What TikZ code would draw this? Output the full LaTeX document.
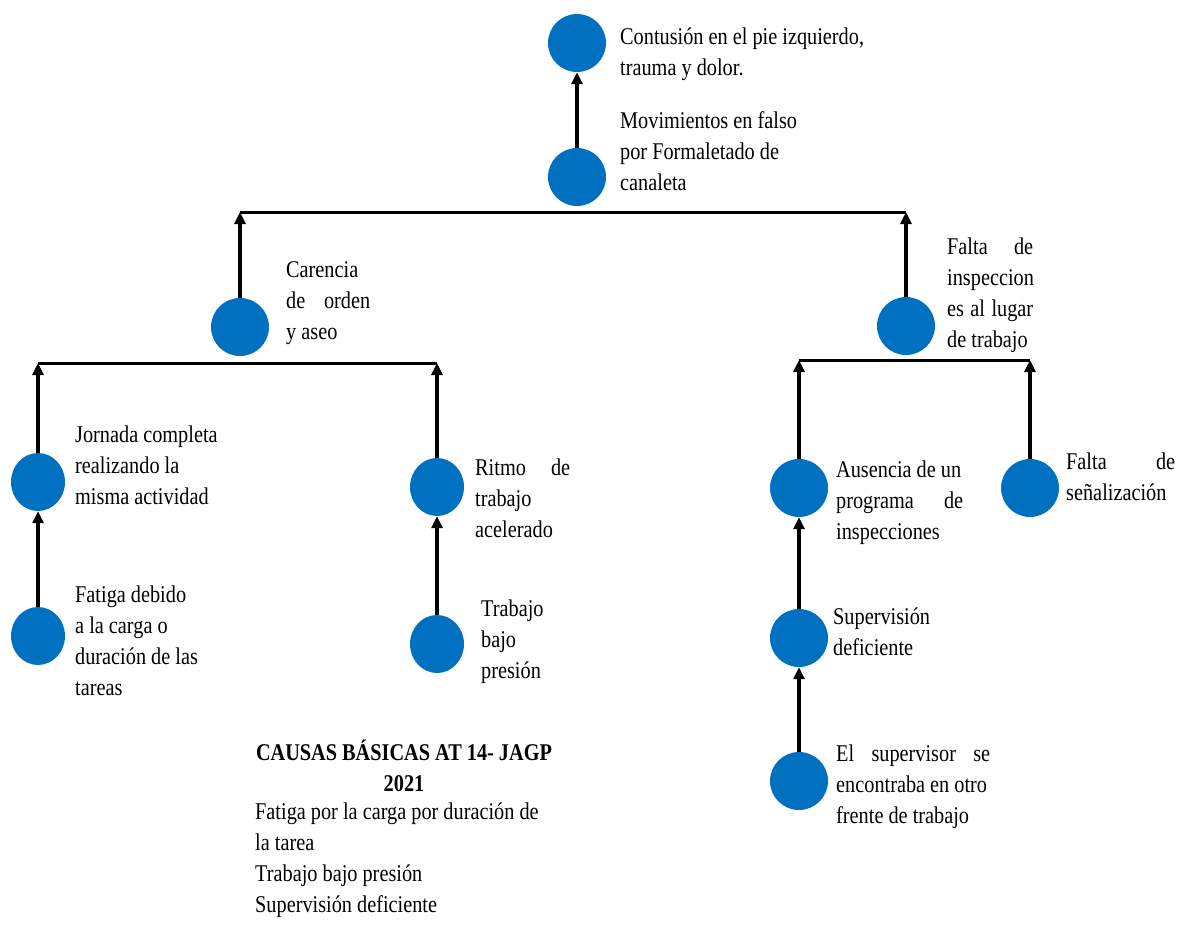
\documentclass[tikz,border=0pt]{standalone}
\usepackage{fontspec}
\setmainfont[FakeStretch=0.845]{Liberation Serif}
\usepackage{tikz}
\usetikzlibrary{arrows.meta,shapes.geometric}

\definecolor{dotblue}{HTML}{0070C0}
\newcommand{\spreadline}[2]{\makebox[#1pt][s]{#2}}

\begin{document}
\begin{tikzpicture}[
  x=1pt, y=-1pt,
  dot/.style={ellipse, fill=dotblue, minimum width=58pt, minimum height=58pt, inner sep=0pt},
  dotn/.style={dot, minimum width=54pt},
  lbl/.style={anchor=north west, inner sep=0pt, align=left,
    font=\fontsize{24}{31}\selectfont},
  arr/.style={-{Triangle[length=12pt,width=11pt]}, line width=3.2pt},
  bar/.style={line width=3pt}
]
\useasboundingbox (0,0) rectangle (1177,924);

% Top
\node[dot] (cont) at (577,43) {};
\node[lbl] (contl) at (620,28) {Contusión en el pie izquierdo,\\trauma y dolor.};
\node[dot] (mov) at (577,177) {};
\node[lbl] (movl) at (620,111) {Movimientos en falso\\por Formaletado de\\canaleta};
\draw[arr] (mov) -- (cont);

% Split
\coordinate (tl) at (240,212);
\coordinate (tr) at (906,212);
\draw[bar] (tl) -- (tr);
\node[dot] (car) at (240,327) {};
\node[lbl] (carl) at (286,261) {\spreadline{84}{Carencia}\\\spreadline{84}{de orden}\\y aseo};
\node[dot] (insp) at (906,326) {};
\node[lbl] (inspl) at (947,238) {\spreadline{86}{Falta de}\\\spreadline{86}{inspeccion}\\\spreadline{86}{es al lugar}\\de trabajo};
\draw[arr] (car) -- (tl);
\draw[arr] (insp) -- (tr);

% Left branch
\coordinate (ll) at (38,363);
\coordinate (lr) at (437,363);
\draw[bar] (ll) -- (lr);
\node[dotn] (jor) at (38,482) {};
\node[lbl] (jorl) at (75,426) {Jornada completa\\realizando la\\misma actividad};
\node[dotn] (fat) at (38,636) {};
\node[lbl] (fatl) at (75,586) {Fatiga debido\\a la carga o\\duración de las\\tareas};
\node[dotn] (rit) at (437,487) {};
\node[lbl] (ritl) at (475,459) {\spreadline{95}{Ritmo de}\\trabajo\\acelerado};
\node[dotn] (pres) at (437,644) {};
\node[lbl] (presl) at (481,600) {Trabajo\\bajo\\presión};
\draw[arr] (jor) -- (ll);
\draw[arr] (rit) -- (lr);
\draw[arr] (fat) -- (jor);
\draw[arr] (pres) -- (rit);

% Right branch
\coordinate (rl) at (799,360);
\coordinate (rr) at (1030,360);
\draw[bar] (rl) -- (rr);
\node[dot] (aus) at (799,488) {};
\node[lbl] (ausl) at (836,461) {Ausencia de un\\\spreadline{127}{programa de}\\inspecciones};
\node[dot] (sen) at (1030,488) {};
\node[lbl] (senl) at (1066,453) {\spreadline{109}{Falta de}\\señalización};
\node[dot] (sup) at (799,638) {};
\node[lbl] (supl) at (833,608) {Supervisión\\deficiente};
\node[dot] (otro) at (799,781) {};
\node[lbl] (otrol) at (836,745) {\spreadline{154}{El supervisor se}\\encontraba en otro\\frente de trabajo};
\draw[arr] (aus) -- (rl);
\draw[arr] (sen) -- (rr);
\draw[arr] (sup) -- (aus);
\draw[arr] (otro) -- (sup);

% Basic causes
\node[lbl, anchor=north, align=center, font=\fontsize{24}{31}\selectfont\bfseries] (causas) at (404,740) {CAUSAS BÁSICAS AT 14- JAGP\\2021};
\node[lbl] (lista) at (255,803) {Fatiga por la carga por duración de\\la tarea\\Trabajo bajo presión\\Supervisión deficiente};

\end{tikzpicture}
\end{document}
